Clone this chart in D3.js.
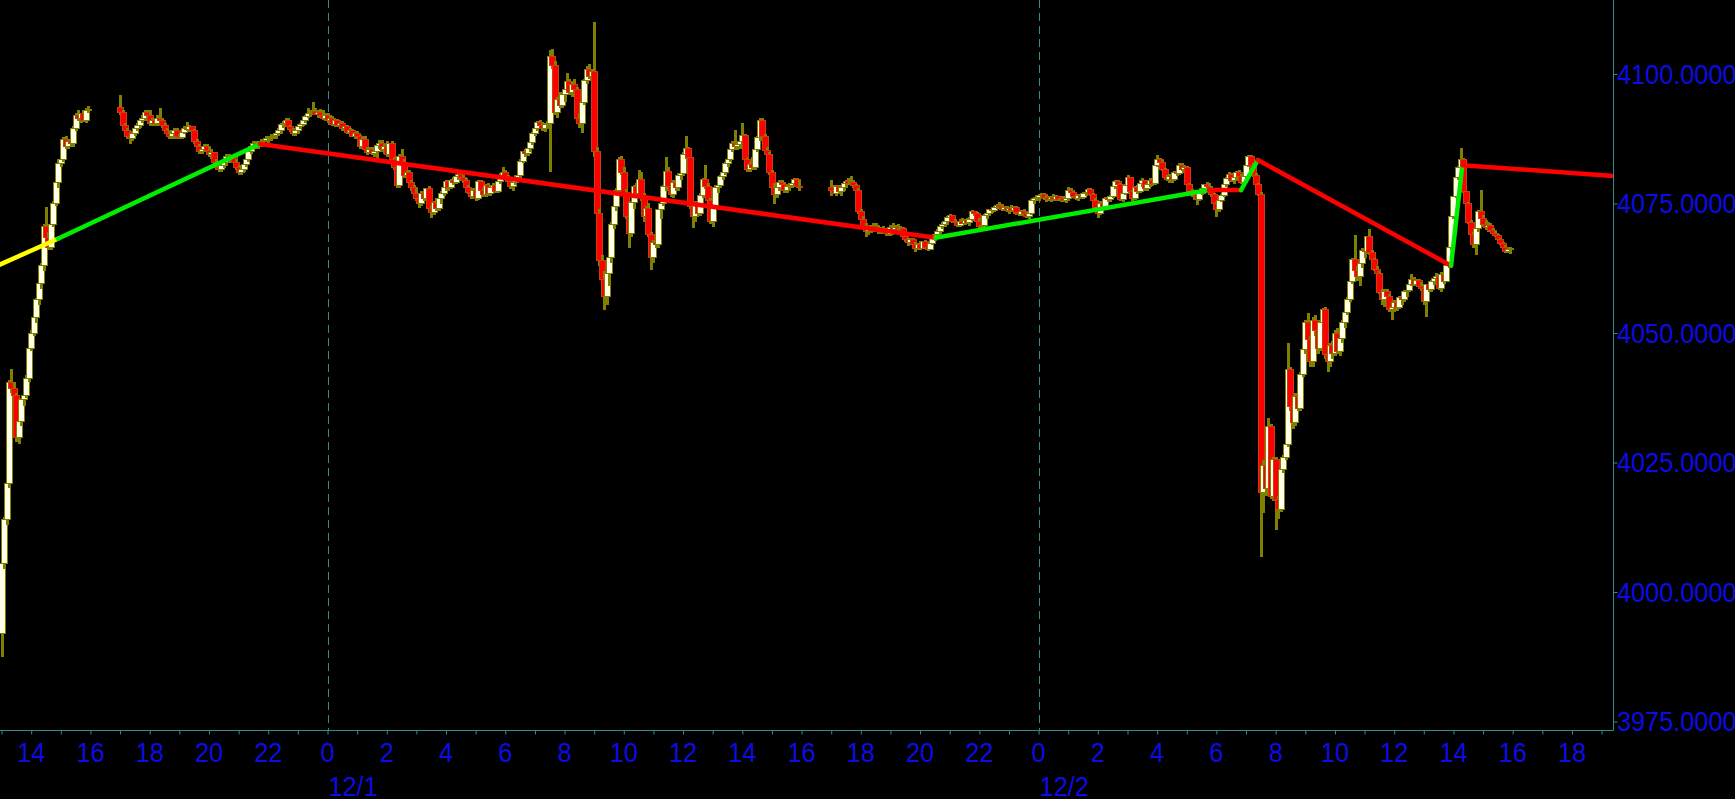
<!DOCTYPE html>
<html><head><meta charset="utf-8">
<script src="https://cdn.jsdelivr.net/npm/d3@7"></script>
<style>html,body{margin:0;padding:0;background:#000;overflow:hidden}</style>
</head><body>
<svg id="chart" width="1735" height="799"></svg>
<script>
// ---------------- DATA ----------------
// time unit: hours relative to 12/1 00:00 ; 5-minute bars [open, high, low, close]
const barMinutes = 5;
const priceTicks = [3975, 4000, 4025, 4050, 4075, 4100];
const hourLabelTicks = [-10,-8,-6,-4,-2,0,2,4,6,8,10,12,14,16,18,20,22,24,26,28,30,32,34,36,38,40,42];
const dateLabels = [{h: 0, text: "12/1"}, {h: 24, text: "12/2"}];

// 11/30 afternoon (from 13:00)
const nov30Start = -11;
const nov30Bars = [
[3992,4006,3987.5,4005.5],[4005.5,4014.5,4004.5,4014],[4014,4021.5,4013,4021],[4021,4041,4020,4040.4],[4040.4,4043,4038.5,4039.2],[4039.2,4040.5,4036.5,4038],
[4038,4038.5,4029,4029.8],[4029.8,4033.5,4028.5,4033],[4033,4037.5,4032,4037.1],[4037.1,4038.5,4036,4038],[4038,4041.8,4037.5,4041.3],[4041.3,4047.5,4040.5,4047.1],
[4047.1,4050.5,4046.5,4050],[4050,4053.5,4049.5,4053],[4053,4056.8,4052,4056.4],[4056.4,4060,4055.5,4059.5],[4059.5,4063.5,4058.5,4063],[4063,4071,4062,4070.5],
[4070.5,4074.3,4068,4068.5],[4068.5,4069.5,4066,4066.5],[4066.5,4071.5,4066,4071],[4071,4075.5,4070.5,4075],[4075,4079.5,4074.5,4079],[4079,4083.5,4078,4082.8],
[4082.8,4083.8,4082,4083.4],[4083.4,4087.8,4083,4087.3],[4087.3,4088,4085.5,4086],[4086,4087.5,4085.5,4087],[4087,4087.8,4086,4086.5],[4086.5,4090,4086,4089.5],
[4089.5,4092.5,4089,4092],[4092,4093,4091,4091.5],[4091.5,4092.5,4090.5,4092.3],[4092.3,4093,4090.7,4091],[4091,4093.4,4090.5,4093],[4093,4093.8,4092.5,4093.2]
];

// 12/1 session: 11/30 17:00 -> 12/1 15:55
const dec1Start = -7;
const dec1Bars = [
// 17
[4093.5,4096,4092,4092.5],[4092.5,4093,4089.5,4090],[4090,4090.5,4088.5,4089],[4089,4089.5,4087.5,4088],[4088,4088.5,4086.5,4087.5],[4087.5,4089,4087,4088.5],
[4088.5,4090,4088,4089.5],[4089.5,4090.5,4089,4090],[4090,4091.5,4089.5,4091],[4091,4092,4090.5,4091.5],[4091.5,4093,4091,4092.5],[4092.5,4093,4091.5,4092],
// 18
[4092,4093,4090,4090.5],[4090.5,4091.5,4090,4091],[4091,4091.5,4090,4090.5],[4090.5,4092,4090,4091.5],[4091.5,4093.5,4090.5,4091],[4091,4091.5,4089.5,4090],
[4090,4090.5,4088.5,4089],[4089,4089.5,4088,4088.5],[4088.5,4089,4087.5,4088],[4088,4089,4087.5,4088.5],[4088.5,4089.5,4087.5,4089],[4089,4089.5,4087.5,4088],
// 19
[4088,4088.5,4087.5,4087.8],[4087.8,4089,4087.5,4088.8],[4088.8,4090,4088.5,4089.5],[4089.5,4090.7,4089,4089.2],[4089.2,4090.2,4088.8,4089.8],[4089.8,4090,4088.5,4089],
[4089,4089.3,4086.5,4087],[4087,4087.5,4085.5,4086],[4086,4086.5,4084.5,4085],[4085,4086,4084.5,4085.5],[4085.5,4086.5,4085,4086],[4086,4086.5,4085,4085.3],
// 20
[4085.3,4086,4084,4084.5],[4084.5,4085.5,4083.5,4084.8],[4084.8,4085,4082.5,4083],[4083,4083.5,4081.5,4082],[4082,4082.5,4081,4081.5],[4081.5,4082.5,4081,4082.3],
[4082.3,4083.5,4081.8,4083],[4083,4084.5,4082.5,4084],[4084,4084.5,4083,4083.5],[4083.5,4084.3,4082.8,4084],[4084,4084.5,4082.5,4083],[4083,4083.5,4081.5,4082],
// 21
[4082,4082.5,4080.5,4081],[4081,4082,4080.5,4081.5],[4081.5,4083,4081,4082.5],[4082.5,4084,4082,4083.5],[4083.5,4085.5,4083,4085],[4085,4086.5,4084.5,4086],
[4086,4087,4085.5,4086.5],[4086.5,4087,4085.5,4086],[4086,4087,4085.5,4086.5],[4086.5,4087.5,4086,4087],[4087,4087.5,4086.3,4087.2],[4087.2,4088,4086.8,4087.5],
// 22
[4087.5,4088,4086.5,4087.8],[4087.8,4088.5,4087,4088],[4088,4088.5,4087.5,4088.2],[4088.2,4088.8,4087.5,4088.5],[4088.5,4089.5,4088,4089],[4089,4090.5,4088.5,4090.2],
[4090.2,4091,4089.5,4090.5],[4090.5,4091.5,4090,4091],[4091,4091.5,4089.5,4089.8],[4089.8,4090.2,4088.8,4089.2],[4089.2,4089.5,4088,4088.5],[4088.5,4089.5,4088,4089],
// 23
[4089,4090,4088.5,4089.8],[4089.8,4090.5,4089.3,4090.2],[4090.2,4091.5,4090,4091.1],[4091.1,4092,4090.5,4091.8],[4091.8,4093.4,4091.5,4092.3],[4092.3,4093,4091.8,4092.5],
[4092.5,4094.6,4092,4092.8],[4092.8,4093.5,4092,4092.2],[4092.2,4093,4091.5,4092.5],[4092.5,4093.2,4091.8,4092],[4092,4093,4091.2,4091.5],[4091.5,4092.5,4091,4092],
// 0
[4092,4092.5,4090.5,4091],[4091,4092,4090.5,4091.5],[4091.5,4091.8,4090,4090.3],[4090.3,4091.3,4089.8,4091],[4091,4091.3,4089.8,4090],[4090,4090.8,4089.3,4090.5],
[4090.5,4091,4089,4089.5],[4089.5,4090,4088.8,4089.8],[4089.8,4090.2,4088.5,4088.8],[4088.8,4089.5,4088,4089],[4089,4089.3,4087.8,4088],[4088,4088.8,4087.5,4088.5],
// 1
[4088.5,4089,4087.5,4088],[4088,4088.3,4085.5,4086],[4086,4087.8,4085.5,4087.3],[4087.3,4088,4085,4085.5],[4085.5,4086,4084.4,4084.8],[4084.8,4086,4084.5,4085.5],
[4085.5,4086,4084.3,4084.6],[4084.6,4085.5,4084,4085],[4085,4086.5,4083.5,4086.2],[4086.2,4087.2,4085.5,4086.5],[4086.5,4087.3,4085,4085.5],[4085.5,4086.5,4084.5,4086],
// 2
[4086,4087,4084,4084.5],[4084.5,4086.7,4084,4086.5],[4086.5,4087,4083,4083.5],[4083.5,4084,4081.5,4082],[4082,4082.5,4078,4078.5],[4078.5,4084.5,4078,4084],
[4084,4085.5,4082.5,4083],[4083,4083.5,4080,4080.5],[4080.5,4081.5,4079.5,4081],[4081,4081.5,4078.5,4079],[4079,4079.5,4077.5,4078],[4078,4078.5,4076.5,4077],
// 3
[4077,4078,4075.5,4076],[4076,4077,4074.2,4075],[4075,4077.5,4074.5,4077],[4077,4078,4075.5,4076],[4076,4078,4075.5,4077.8],[4077.8,4078.3,4073.5,4074],
[4074,4074.5,4072.2,4073.2],[4073.2,4075.5,4072.8,4075.2],[4075.2,4076,4073.5,4074],[4074,4076.5,4073.5,4076],[4076,4077.5,4075,4077],[4077,4078.5,4076.5,4078],
// 4
[4078,4079.5,4077.5,4079.2],[4079.2,4079.6,4077.5,4078],[4078,4079.8,4077.8,4079.5],[4079.5,4080.2,4078.5,4079],[4079,4080.5,4078.8,4080.2],[4080.2,4081,4079.5,4080.6],
[4080.6,4081.2,4079.8,4080],[4080,4080.5,4079,4079.5],[4079.5,4080,4077.5,4078],[4078,4078.5,4076.8,4077.2],[4077.2,4077.8,4075.8,4076.3],[4076.3,4078,4076,4077.5],
// 5
[4077.5,4078,4075.5,4076],[4076,4079.5,4075.7,4079.2],[4079.2,4079.5,4077,4077.5],[4077.5,4078,4076.3,4076.7],[4076.7,4078.8,4076.3,4078.5],[4078.5,4079,4076.5,4077],
[4077,4078.5,4076.5,4078],[4078,4079,4077.3,4078.5],[4078.5,4078.8,4077,4077.3],[4077.3,4079.5,4077,4079.2],[4079.2,4080.8,4078.8,4080.5],[4080.5,4082,4080,4081],
// 6
[4081,4081.5,4079.5,4080],[4080,4080.5,4078.8,4079.2],[4079.2,4079.5,4077.8,4078.2],[4078.2,4079.5,4077.5,4079],[4079,4080.5,4078.5,4080],[4080,4081,4079.3,4080.5],
[4080.5,4083.5,4080,4083.2],[4083.2,4085.2,4082.8,4085],[4085,4085.6,4084,4084.6],[4084.6,4086,4084.2,4085.7],[4085.7,4087,4085,4086.7],[4086.7,4088.8,4086.3,4088.5],
// 7
[4088.5,4090,4088,4089.5],[4089.5,4091,4089,4090.7],[4090.7,4091.2,4089.5,4090],[4090,4090.7,4089,4089.5],[4089.5,4090.5,4088.8,4090.2],[4090.2,4091,4089.5,4090.5],
[4090.5,4104.6,4081,4103.3],[4103.3,4104.8,4101,4101.7],[4101.7,4102.5,4092,4092.5],[4092.5,4095.5,4091.5,4095],[4095,4096.5,4093.5,4094],[4094,4096.5,4093.5,4096],
// 8
[4096,4097.5,4094.5,4097],[4097,4100.2,4096.5,4098.5],[4098.5,4099,4096,4096.5],[4096.5,4098.5,4095.5,4098],[4098,4099,4096.5,4097],[4097,4097.5,4091,4091.5],
[4091.5,4092.5,4089.5,4090.5],[4090.5,4095,4088.6,4094.5],[4094.5,4099,4094,4098.8],[4098.8,4101.5,4098,4100.8],[4100.8,4102,4099,4099.5],[4099.5,4101,4098.5,4100.5],
// 9
[4100.5,4110,4084,4085],[4085,4086,4072,4073],[4073,4074,4063,4064],[4064,4065,4058.5,4060.3],[4060.3,4062,4054.5,4057],[4057,4062,4055.5,4061.5],
[4061.5,4066,4059,4064.5],[4064.5,4071.5,4063.5,4071],[4071,4075,4070,4074.5],[4074.5,4078,4073.5,4077.5],[4077.5,4084,4076.5,4083.5],[4083.5,4084.2,4080.5,4081],
// 10
[4081,4082,4076.5,4077.2],[4077.2,4077.8,4072,4072.4],[4072.4,4073,4066.5,4069.3],[4069.3,4075.5,4068.5,4075.1],[4075.1,4078.5,4074,4078.2],[4078.2,4079,4076.5,4077],
[4077,4081.5,4076.5,4079.6],[4079.6,4081,4075.5,4076.3],[4076.3,4077,4071.5,4072.5],[4072.5,4074.5,4070.5,4074],[4074,4075.1,4068.5,4069],[4069,4069.5,4062.2,4064.5],
// 11
[4064.5,4068,4063.5,4067.4],[4067.4,4070,4066.5,4067],[4067,4074,4066.5,4073.8],[4073.8,4075.5,4072,4075],[4075,4078.5,4074.5,4078.2],[4078.2,4084,4077.5,4081.1],
[4081.1,4082,4077.8,4078.2],[4078.2,4079,4076.3,4076.7],[4076.7,4079.5,4076,4079],[4079,4080,4077.5,4078],[4078,4080.8,4077.5,4080.5],[4080.5,4081.5,4079.5,4080.8],
// 12
[4080.8,4085,4080.5,4084.5],[4084.5,4088,4083.5,4085.7],[4085.7,4086,4083.3,4083.8],[4083.8,4084,4074,4074.5],[4074.5,4075,4070.3,4072.5],[4072.5,4075.5,4071.5,4075],
[4075,4075.5,4072.5,4073],[4073,4077,4072.5,4076.5],[4076.5,4080,4076,4079.6],[4079.6,4082.4,4077.8,4078.3],[4078.3,4079,4075,4075.5],[4075.5,4076,4071,4071.5],
// 13
[4071.5,4075,4070.5,4074.5],[4074.5,4078.5,4074,4078],[4078,4079,4077,4078.5],[4078.5,4080.5,4078,4080.3],[4080.3,4081.5,4079.5,4081],[4081,4083,4080.5,4082.8],
[4082.8,4084,4082,4083.5],[4083.5,4086,4083,4085.5],[4085.5,4087,4085,4086.5],[4086.5,4089.2,4085.5,4086],[4086,4087,4085.3,4086.3],[4086.3,4087.5,4085.5,4087],
// 14
[4087,4090.5,4086.5,4088.2],[4088.2,4088.5,4083,4083.4],[4083.4,4083.8,4081,4081.5],[4081.5,4083,4081,4082.5],[4082.5,4084,4081.5,4082],[4082,4086,4081.5,4085.5],
[4085.5,4088,4085,4087.7],[4087.7,4091.5,4087,4091],[4091,4091.6,4087.5,4088],[4088,4088.5,4085,4085.3],[4085.3,4086,4084,4084.5],[4084.5,4085,4080.5,4081],
// 15
[4081,4081.5,4077.5,4078],[4078,4079,4075,4076.7],[4076.7,4078.5,4076,4078],[4078,4079.5,4077.5,4079],[4079,4079.5,4078,4078.6],[4078.6,4079,4077,4077.5],
[4077.5,4078.5,4077,4078.2],[4078.2,4079,4077.5,4078.5],[4078.5,4079.2,4078,4078.8],[4078.8,4080,4078.5,4079.6],[4079.6,4080,4078,4078.3],[4078.3,4079.5,4077.5,4078]
];

// 12/2 session: 12/1 17:00 -> 12/2 15:55
const dec2Start = 17;
const dec2Bars = [
// 17
[4078,4079.5,4076.5,4077.6],[4077.6,4078.5,4076.8,4077],[4077,4078.5,4076.5,4078.2],[4078.2,4078.6,4077,4077.3],[4077.3,4078.5,4076.5,4078],[4078,4079,4077.5,4078.8],
[4078.8,4079.5,4078,4079.3],[4079.3,4080,4078.5,4078.9],[4078.9,4080.4,4078.3,4079],[4079,4079.5,4078,4078.4],[4078.4,4078.8,4077.3,4077.6],[4077.6,4078,4073,4073.5],
// 18
[4073.5,4074,4071.5,4072],[4072,4072.5,4070.3,4070.8],[4070.8,4071.2,4068.6,4069.5],[4069.5,4070.5,4069,4070.2],[4070.2,4070.8,4069.3,4069.8],[4069.8,4071.2,4069.5,4070.5],
[4070.5,4071.2,4069.8,4070.2],[4070.2,4070.8,4069.2,4069.6],[4069.6,4070.5,4069.2,4070.2],[4070.2,4070.6,4069.3,4069.6],[4069.6,4070.2,4068.8,4069.2],[4069.2,4069.8,4068.7,4069.1],
// 19
[4069.1,4070.8,4068.8,4070.4],[4070.4,4071.3,4069.8,4070],[4070,4070.8,4069.3,4070.3],[4070.3,4071,4069.6,4069.9],[4069.9,4070.7,4069,4070.2],[4070.2,4070.5,4068.2,4068.6],
[4068.6,4069,4067.5,4068],[4068,4068.4,4066.8,4067.4],[4067.4,4068.4,4067,4068],[4068,4068.3,4066.6,4067],[4067,4067.5,4065.7,4066.4],[4066.4,4067.4,4066,4067],
// 20
[4067,4067.8,4066,4066.4],[4066.4,4067.8,4066.2,4067.6],[4067.6,4068,4066.3,4066.6],[4066.6,4067.2,4065.8,4066.2],[4066.2,4067.6,4066,4067.3],[4067.3,4068.4,4067,4068.2],
[4068.2,4069.4,4067.8,4069],[4069,4070,4068.5,4069.5],[4069.5,4070.8,4069.2,4070.5],[4070.5,4071.4,4070,4071],[4071,4072,4070.5,4071.5],[4071.5,4072.5,4071,4072.3],
// 21
[4072.3,4072.9,4071.5,4072.6],[4072.6,4072.8,4071.2,4071.5],[4071.5,4072,4070.8,4071.3],[4071.3,4071.6,4070.5,4070.8],[4070.8,4072,4070.5,4071.6],[4071.6,4072.2,4071,4071.2],
[4071.2,4072,4070.8,4071.8],[4071.8,4072.2,4071,4071.4],[4071.4,4072.3,4070.6,4072],[4072,4073.8,4071.6,4073.4],[4073.4,4073.6,4072.5,4073],[4073,4073.3,4071.2,4071.6],
// 22
[4071.6,4072.2,4070.3,4070.6],[4070.6,4071.2,4070,4070.8],[4070.8,4072.9,4070.5,4072.6],[4072.6,4073.3,4072,4073],[4073,4074,4072.8,4073.8],[4073.8,4074.2,4073.2,4073.6],
[4073.6,4074.5,4073.3,4074.3],[4074.3,4075,4074,4074.7],[4074.7,4075.3,4074.2,4074.5],[4074.5,4075,4073.6,4073.9],[4073.9,4074.5,4073.5,4074.2],[4074.2,4074.6,4073.3,4073.6],
// 23
[4073.6,4074.4,4073,4074],[4074,4074.8,4073.4,4073.7],[4073.7,4074.5,4073,4074.2],[4074.2,4074.6,4072.8,4073.2],[4073.2,4073.6,4072.5,4072.9],[4072.9,4073.8,4072.6,4073.5],
[4073.5,4073.9,4072.8,4073.1],[4073.1,4073.4,4072.2,4072.5],[4072.5,4073.3,4072.1,4073],[4073,4075.8,4072.8,4075.5],[4075.5,4076.3,4075,4075.9],[4075.9,4076.7,4075.5,4076.2],
// 0
[4076.2,4076.8,4075.5,4076.5],[4076.5,4077,4075.8,4076.7],[4076.7,4077,4075.6,4075.9],[4075.9,4076.7,4075.3,4076.1],[4076.1,4076.5,4075.4,4075.8],[4075.8,4076.4,4075.2,4076.2],
[4076.2,4076.9,4075.5,4075.7],[4075.7,4076.6,4075.5,4076.3],[4076.3,4076.5,4075.4,4075.8],[4075.8,4076.2,4075.2,4076],[4076,4076.4,4075.3,4075.6],[4075.6,4076.2,4075.1,4075.9],
// 1
[4075.9,4078.2,4075.6,4077.6],[4077.6,4078,4076.8,4077.1],[4077.1,4077.4,4076,4076.3],[4076.3,4076.8,4075.6,4075.9],[4075.9,4076.8,4075.5,4076.5],[4076.5,4077,4075.8,4076.1],
[4076.1,4077.2,4075.9,4076.9],[4076.9,4077.5,4076.4,4077.2],[4077.2,4078,4076.8,4077.7],[4077.7,4078,4076.5,4076.8],[4076.8,4077.1,4075.3,4075.6],[4075.6,4076,4073.5,4074.2],
// 2
[4074.2,4075,4072.2,4073.1],[4073.1,4075.5,4072.8,4075],[4075,4075.8,4073.8,4074.1],[4074.1,4076.3,4073.8,4076],[4076,4076.4,4075.3,4075.7],[4075.7,4076.7,4075.3,4076.4],
[4076.4,4078.5,4076,4078.2],[4078.2,4079.6,4077.8,4079.3],[4079.3,4079.6,4078.2,4078.6],[4078.6,4078.9,4075.4,4075.7],[4075.7,4077.4,4075.3,4077],[4077,4078.8,4076.7,4078.4],
// 3
[4078.4,4080.5,4078,4080],[4080,4080.2,4076.8,4077.3],[4077.3,4077.6,4075.5,4075.9],[4075.9,4078.3,4075.6,4078],[4078,4078.5,4076.9,4077.4],[4077.4,4079.2,4077,4078.8],
[4078.8,4079.9,4078.2,4079.4],[4079.4,4079.6,4077.4,4077.8],[4077.8,4078.9,4077.5,4078.6],[4078.6,4080,4078.2,4079.5],[4079.5,4080,4078.4,4078.8],[4078.8,4082.6,4078.5,4082.4],
// 4
[4082.4,4084.4,4082,4083.4],[4083.4,4083.8,4082.6,4083],[4083,4083.4,4081.2,4081.5],[4081.5,4081.8,4079.8,4080.1],[4080.1,4080.5,4079.3,4079.6],[4079.6,4080.6,4078.9,4080.2],
[4080.2,4080.5,4079,4079.6],[4079.6,4081.3,4079.3,4081],[4081,4081.6,4080.4,4080.8],[4080.8,4082.8,4080.5,4082.4],[4082.4,4082.9,4081.2,4081.5],[4081.5,4082.2,4080.8,4081.9],
// 5
[4081.9,4082.3,4078.3,4078.6],[4078.6,4079,4077,4077.3],[4077.3,4077.8,4076.2,4076.6],[4076.6,4077.6,4075.7,4077.3],[4077.3,4077.6,4074.7,4075.7],[4075.7,4077.3,4075.4,4077],
[4077,4078.2,4076.6,4077.8],[4077.8,4078.8,4077.4,4078.6],[4078.6,4079.2,4077.9,4078.2],[4078.2,4079,4077.4,4077.7],[4077.7,4078.3,4076.3,4076.7],[4076.7,4077,4074.6,4075],
// 6
[4075,4075.3,4072.4,4073.8],[4073.8,4075.8,4073.4,4075.6],[4075.6,4076.8,4075.2,4076.5],[4076.5,4078.9,4076.2,4078.6],[4078.6,4080.2,4078.2,4079.9],[4079.9,4081,4079.4,4080.6],
[4080.6,4080.9,4079.2,4079.5],[4079.5,4080.2,4078.8,4080],[4080,4081.2,4079.6,4081],[4081,4081.5,4079.8,4080.3],[4080.3,4080.7,4078.7,4079.1],[4079.1,4080.6,4078.8,4080.3],
// 7
[4080.3,4082.6,4080,4082.4],[4082.4,4084.4,4082,4084],[4084,4084.4,4082,4082.4],[4082.4,4082.8,4080.2,4080.5],[4080.5,4080.8,4078.3,4078.6],[4078.6,4079,4076.4,4076.7],
[4076.7,4077.2,4006.8,4019.3],[4019.3,4025.5,4015.3,4024.5],[4024.5,4026.5,4018.5,4020],[4020,4033.6,4019.5,4032],[4032,4032.5,4018,4018.4],[4018.4,4026,4017.5,4025.5],
// 8
[4025.5,4026,4012,4017.8],[4017.8,4018.5,4014,4016],[4016,4024,4015.5,4023.6],[4023.6,4026.5,4023,4026],[4026,4029,4025.5,4028.4],[4028.4,4048.1,4028,4043],
[4043,4043.5,4035,4035.8],[4035.8,4036.5,4031.5,4032.7],[4032.7,4038.5,4032,4037.7],[4037.7,4038.5,4035,4035.5],[4035.5,4042.5,4035,4042],[4042,4047.5,4041.5,4046.8],
// 9
[4046.8,4052.5,4046,4052],[4052,4053.9,4048,4048.7],[4048.7,4049.5,4043.5,4044.5],[4044.5,4053,4043.5,4052.5],[4052.5,4053.5,4049.5,4050.5],[4050.5,4051,4046,4047],
[4047,4052.5,4046.5,4052],[4052,4054.8,4051.5,4054.5],[4054.5,4055,4045,4045.8],[4045.8,4046.5,4042.5,4044.5],[4044.5,4048,4043.5,4047.5],[4047.5,4048.5,4045,4046],
// 10
[4046,4050.5,4045.5,4050],[4050,4051,4046,4046.5],[4046.5,4049.5,4045.5,4049],[4049,4052.5,4048,4052],[4052,4054.5,4051,4054],[4054,4057,4053.5,4056.4],
[4056.4,4060.5,4056,4060],[4060,4064.5,4059.5,4064.1],[4064.1,4069,4061.5,4062],[4062,4063,4060,4061],[4061,4064,4059,4063.5],[4063.5,4066.5,4062.5,4066],
// 11
[4066,4066.6,4064.5,4065.7],[4065.7,4068.8,4065.3,4068.6],[4068.6,4070,4065,4065.5],[4065.5,4066,4063.8,4064.1],[4064.1,4064.5,4062,4062.2],[4062.2,4063,4061,4061.5],
[4061.5,4062,4057.5,4057.8],[4057.8,4058.5,4055.5,4056.5],[4056.5,4058.4,4055,4058],[4058,4058.5,4056.5,4057],[4057,4057.5,4054,4054.5],[4054.5,4055.5,4052.5,4055],
// 12
[4055,4056.4,4054,4055.9],[4055.9,4056.5,4054.3,4055],[4055,4057.2,4054.6,4056.8],[4056.8,4057.5,4055.5,4056.4],[4056.4,4058.3,4056,4058],[4058,4058.6,4057,4058.3],
[4058.3,4059.6,4058,4059.4],[4059.4,4061.3,4059,4060.3],[4060.3,4060.8,4059,4059.3],[4059.3,4060.5,4059,4060.1],[4060.1,4060.4,4058.6,4059],[4059,4059.8,4058.2,4058.6],
// 13
[4058.6,4059,4055.5,4056],[4056,4059.5,4053,4059.3],[4059.3,4059.8,4058,4058.4],[4058.4,4060.3,4058,4060],[4060,4061,4059.2,4060.6],[4060.6,4061.5,4060,4061],
[4061,4061.3,4058.3,4058.6],[4058.6,4061.7,4058,4061.3],[4061.3,4062,4059.5,4060],[4060,4063.5,4059.8,4063],[4063,4067,4062.5,4066.6],[4066.6,4072.6,4066,4072.4],
// 14
[4072.4,4076.5,4072,4076.3],[4076.3,4080.3,4076,4080.1],[4080.1,4082.2,4079.5,4082],[4082,4085.7,4081.5,4083.4],[4083.4,4083.8,4077,4077.3],[4077.3,4077.5,4074.5,4075],
[4075,4075.3,4071,4071.3],[4071.3,4071.8,4068.5,4069],[4069,4069.5,4066.5,4067],[4067,4070.5,4065,4070.2],[4070.2,4073.8,4069.5,4073.5],[4073.5,4077.6,4071.5,4072.2],
// 15
[4072.2,4072.8,4070.5,4071],[4071,4071.8,4069.8,4070.4],[4070.4,4071.5,4069.5,4070.8],[4070.8,4071.2,4069.5,4069.8],[4069.8,4070.2,4069,4069.3],[4069.3,4069.7,4068.5,4068.8],
[4068.8,4069.2,4067.8,4068],[4068,4068.4,4067,4067.3],[4067.3,4067.6,4066.3,4066.6],[4066.6,4066.9,4065.5,4065.8],[4065.8,4066.5,4065.4,4066.2],[4066.2,4066.6,4065.3,4066.4]
];

// overlay trend (zigzag) pivots [hour, price] and segment colours
const zigzagPoints = [[-11.06,4063.2],[-9.1,4068.2],[-2.28,4086.5],[20.52,4068.4],[29.75,4077.6],[30.83,4077.6],[31.4,4083.4],[37.92,4063.0],[38.3,4082.4],[43.4,4080.3]];
const zigzagColors = ["#ffff00","#00ee00","#ff0000","#00ee00","#ff0000","#00ee00","#ff0000","#00ee00","#ff0000"];

// ---------------- CHART ----------------
const W = 1735, H = 799;
const plotRight = 1613, plotBottom = 730.5;
const axisColor = "#2f8f8f", textColor = "#0c0ce6";
const fontFamily = "'Liberation Sans', Arial, sans-serif";
const fontSize = 27.5, fontSX = 0.92;

const x = d3.scaleLinear().domain([0, 24]).range([327.5, 327.5 + 24 * 29.63]);
const y = d3.scaleLinear().domain([3975, 4100]).range([721.5, 74]);

const svg = d3.select("#chart");
svg.append("rect").attr("width", W).attr("height", H).attr("fill", "#000");

svg.append("defs").append("clipPath").attr("id", "plotClip")
  .append("rect").attr("x", 0).attr("y", 0).attr("width", plotRight).attr("height", plotBottom);

const plot = svg.append("g").attr("clip-path", "url(#plotClip)");

// day separators
plot.selectAll("line.day").data(dateLabels).enter().append("line")
  .attr("x1", d => Math.round(x(d.h)) + 0.5).attr("x2", d => Math.round(x(d.h)) + 0.5)
  .attr("y1", 0).attr("y2", plotBottom)
  .attr("stroke", axisColor).attr("stroke-width", 1).attr("stroke-dasharray", "8,5");

// candles
const sessions = [
  {start: nov30Start, bars: nov30Bars},
  {start: dec1Start, bars: dec1Bars},
  {start: dec2Start, bars: dec2Bars}
];
const candles = sessions.flatMap(s => s.bars.map((b, i) => ({
  t: s.start + i * barMinutes / 60, o: b[0], h: b[1], l: b[2], c: b[3]
})));

const bodyW = 6;
const cg = plot.append("g").attr("shape-rendering", "crispEdges");
const cs = cg.selectAll("g.c").data(candles).enter().append("g");
cs.append("line")
  .attr("x1", d => Math.round(x(d.t)) + 0.5).attr("x2", d => Math.round(x(d.t)) + 0.5)
  .attr("y1", d => y(Math.max(d.h, d.o, d.c))).attr("y2", d => y(Math.min(d.l, d.o, d.c)))
  .attr("stroke", "#808000").attr("stroke-width", 3);
cs.append("rect")
  .attr("x", d => Math.round(x(d.t)) + 0.5 - bodyW / 2)
  .attr("width", bodyW)
  .attr("y", d => y(Math.max(d.o, d.c)))
  .attr("height", d => Math.max(1, Math.abs(y(d.o) - y(d.c))))
  .attr("fill", d => d.c >= d.o ? "#ffffea" : "#ff0000")
  .attr("stroke", d => d.c >= d.o ? "#808000" : "#c84010")
  .attr("stroke-width", 1);

// zigzag overlay
const segs = zigzagColors.map((col, i) => ({a: zigzagPoints[i], b: zigzagPoints[i + 1], col}));
plot.selectAll("line.zz").data(segs).enter().append("line")
  .attr("x1", d => x(d.a[0])).attr("y1", d => y(d.a[1]))
  .attr("x2", d => x(d.b[0])).attr("y2", d => y(d.b[1]))
  .attr("stroke", d => d.col).attr("stroke-width", 4.5).attr("stroke-linecap", "round");

// axes lines
svg.append("line").attr("x1", plotRight + 0.5).attr("x2", plotRight + 0.5).attr("y1", 0).attr("y2", plotBottom)
  .attr("stroke", axisColor).attr("stroke-width", 1);
svg.append("line").attr("x1", 0).attr("x2", plotRight + 0.5).attr("y1", plotBottom).attr("y2", plotBottom)
  .attr("stroke", axisColor).attr("stroke-width", 1);

// right price axis (ticks via d3 axis, labels drawn with a slight horizontal condensing)
const ya = svg.append("g").attr("transform", `translate(${plotRight + 0.5},0)`)
  .call(d3.axisRight(y).tickValues(priceTicks).tickSize(4).tickFormat(""));
ya.select(".domain").remove();
ya.selectAll(".tick line").attr("stroke", axisColor);
const fmt = d3.format(".4f");
svg.append("g").selectAll("text").data(priceTicks).enter().append("text")
  .attr("transform", d => `translate(1617,${y(d)}) scale(${fontSX},1)`)
  .attr("dy", "0.36em")
  .attr("fill", textColor).attr("font-family", fontFamily).attr("font-size", fontSize)
  .text(d => fmt(d));

// bottom time axis: hourly ticks
const hourTicks = d3.range(-11, 44);
const xa = svg.append("g").attr("transform", `translate(0,${plotBottom})`)
  .call(d3.axisBottom(x).tickValues(hourTicks).tickSize(4).tickFormat(""));
xa.select(".domain").remove();
xa.selectAll(".tick line").attr("stroke", axisColor);

svg.append("g").selectAll("text").data(hourLabelTicks).enter().append("text")
  .attr("transform", d => `translate(${x(d)},762) scale(${fontSX},1)`)
  .attr("text-anchor", "middle")
  .attr("fill", textColor).attr("font-family", fontFamily).attr("font-size", fontSize)
  .text(d => ((d % 24) + 24) % 24);

svg.append("g").selectAll("text").data(dateLabels).enter().append("text")
  .attr("transform", d => `translate(${x(d.h) + 1},796) scale(${fontSX},1)`)
  .attr("text-anchor", "start")
  .attr("fill", textColor).attr("font-family", fontFamily).attr("font-size", fontSize)
  .text(d => d.text);
</script>
</body></html>
